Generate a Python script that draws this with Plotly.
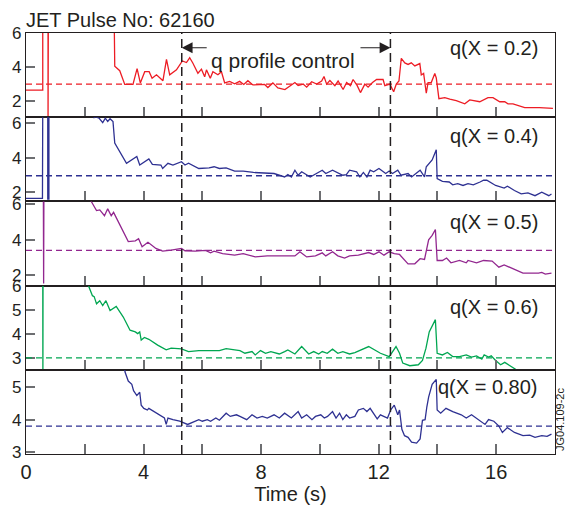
import plotly.graph_objects as go
from plotly.subplots import make_subplots

# ---------------- data (time in s, safety factor q) ----------------
# values above/below the axis range mark off-scale excursions (clipped by the axes)
q_x02 = [(0, 2.65), (0.57, 2.65), (0.57, 7), (0.75, 7), (0.75, 0.5), (0.76, 7), (3.0, 7),
         (3.02, 4.05), (3.19, 3.79), (3.36, 2.98), (3.64, 2.98), (3.78, 3.91), (3.89, 3.07),
         (4.04, 3.73), (4.19, 3.73), (4.29, 3.34), (4.44, 3.55), (4.66, 3.20), (4.78, 4.45),
         (4.89, 3.55), (5.12, 3.84), (5.32, 4.36), (5.46, 4.27), (5.57, 4.55), (5.68, 4.23),
         (5.85, 3.64), (5.97, 3.88), (6.08, 3.43), (6.14, 3.84), (6.27, 3.34), (6.36, 3.73),
         (6.53, 3.55), (6.65, 3.73), (6.76, 3.07), (6.93, 3.16), (7.10, 3.02), (7.27, 3.16),
         (7.41, 2.98), (7.55, 3.20), (7.72, 2.95), (8.12, 2.98), (8.23, 2.80), (8.40, 3.07),
         (8.57, 2.77), (8.81, 2.68), (8.98, 2.91), (9.15, 3.09), (9.26, 2.91), (9.43, 3.0),
         (9.55, 2.82), (9.72, 3.14), (9.89, 3.0), (10.06, 3.18), (10.14, 3.45), (10.23, 3.0),
         (10.34, 3.21), (10.51, 2.91), (10.62, 3.18), (10.79, 2.68), (10.91, 3.09), (11.04, 2.91),
         (11.13, 3.27), (11.27, 2.91), (11.38, 2.5), (11.53, 3.0), (11.64, 2.82), (11.79, 3.09),
         (11.93, 3.27), (12.15, 3.27), (12.21, 2.91), (12.38, 3.0), (12.51, 2.55), (12.60, 3.0),
         (12.69, 3.18), (12.77, 4.52), (12.89, 4.25), (13.0, 4.16), (13.11, 4.25), (13.23, 4.07),
         (13.40, 4.21), (13.45, 3.54), (13.53, 3.63), (13.62, 2.46), (13.68, 3.09), (13.79, 3.09),
         (13.91, 3.63), (13.96, 3.36), (14.05, 2.14), (14.25, 2.20), (14.42, 2.11), (14.64, 2.02),
         (14.93, 1.84), (15.10, 2.07), (15.44, 1.96), (15.72, 2.20), (15.89, 2.20), (16.12, 1.96),
         (16.29, 1.96), (16.40, 1.84), (16.57, 1.84), (16.97, 1.61), (17.47, 1.61), (17.93, 1.57)]

q_x04 = [(0, 1.65), (0.56, 1.65), (0.57, 7), (0.74, 7), (0.74, 1.6), (0.78, 1.6), (0.78, 7),
         (2.25, 7), (2.32, 6.31), (2.37, 6.35), (2.49, 6.27), (2.61, 6.02), (2.70, 6.27),
         (2.78, 6.08), (2.86, 6.24), (2.96, 6.08), (3.02, 4.84), (3.42, 3.67), (3.77, 4.06),
         (3.87, 3.57), (4.18, 3.92), (4.30, 3.61), (4.59, 3.57), (4.65, 3.37), (4.83, 3.67),
         (5.00, 3.57), (5.29, 3.76), (5.41, 3.57), (5.53, 3.67), (5.88, 3.37), (6.23, 3.41),
         (6.40, 3.47), (6.58, 3.37), (6.81, 3.41), (7.10, 3.22), (7.39, 3.22), (7.74, 3.14),
         (8.44, 3.08), (8.80, 2.88), (8.91, 3.02), (9.03, 2.88), (9.15, 3.27), (9.26, 2.98),
         (9.38, 3.18), (9.67, 2.88), (10.08, 3.27), (10.20, 3.08), (10.43, 3.27), (10.78, 2.98),
         (10.90, 3.02), (11.01, 3.27), (11.25, 3.18), (11.36, 2.88), (11.48, 3.14), (11.60, 2.88),
         (11.71, 3.27), (11.83, 3.18), (12.01, 3.37), (12.24, 3.08), (12.36, 3.22), (12.47, 3.08),
         (12.65, 3.27), (12.76, 2.98), (13.00, 3.08), (13.12, 2.88), (13.23, 3.02), (13.41, 3.27),
         (13.56, 2.88), (13.62, 3.47), (13.82, 3.86), (13.96, 4.45), (13.99, 2.78), (14.17, 2.63),
         (14.40, 2.59), (14.52, 2.43), (14.69, 2.49), (14.87, 2.39), (15.04, 2.49), (15.22, 2.43),
         (15.45, 2.59), (15.57, 2.69), (15.68, 2.69), (15.86, 2.49), (15.98, 2.39), (16.27, 2.24),
         (16.38, 2.35), (16.62, 2.10), (16.85, 1.90), (17.08, 1.96), (17.32, 1.80), (17.55, 2.00),
         (17.79, 1.80), (17.88, 1.90)]

q_x05 = [(0.59, 7), (0.60, 1.53), (0.61, 7), (2.1, 7), (2.20, 6.23), (2.32, 5.88), (2.40, 5.65),
         (2.51, 5.69), (2.67, 5.36), (2.78, 5.75), (2.90, 5.36), (2.98, 5.55), (3.48, 3.90),
         (3.72, 3.94), (3.83, 4.06), (3.95, 3.61), (4.15, 3.86), (4.42, 3.51), (4.65, 3.36),
         (4.94, 3.42), (5.29, 3.51), (5.41, 3.38), (5.76, 3.36), (6.11, 3.40), (6.28, 3.26),
         (6.40, 3.36), (6.69, 3.22), (7.10, 3.13), (7.39, 3.22), (7.80, 3.03), (8.21, 3.09),
         (9.15, 3.09), (9.32, 3.32), (9.55, 3.03), (9.85, 3.09), (10.08, 3.26), (10.20, 3.09),
         (10.43, 3.32), (10.61, 3.09), (10.84, 2.97), (11.01, 3.09), (11.31, 3.13), (11.66, 3.28),
         (11.83, 3.17), (12.01, 3.32), (12.18, 3.13), (12.36, 3.32), (12.53, 3.22), (12.71, 3.17),
         (13.00, 2.64), (13.23, 2.64), (13.41, 2.93), (13.56, 2.89), (13.70, 4.0), (13.82, 4.25),
         (13.93, 4.58), (13.99, 2.83), (14.17, 2.83), (14.31, 2.97), (14.46, 2.70), (14.75, 2.83),
         (14.98, 2.70), (15.04, 2.83), (15.33, 2.70), (15.57, 2.83), (15.86, 2.80), (16.09, 2.45),
         (16.27, 2.58), (16.91, 2.12), (17.44, 2.12), (17.55, 2.16), (17.67, 2.06), (17.88, 2.12)]

q_x06 = [(0.57, 7), (0.575, 2.0), (0.58, 7), (2.05, 7), (2.14, 5.96), (2.26, 5.59), (2.32, 5.55),
         (2.40, 5.25), (2.51, 5.38), (2.61, 5.18), (2.72, 5.38), (2.86, 4.97), (3.07, 5.14),
         (3.31, 4.70), (3.54, 4.15), (3.72, 4.08), (3.80, 4.01), (3.87, 4.08), (3.92, 3.74),
         (4.03, 3.85), (4.18, 3.77), (4.48, 3.53), (4.77, 3.33), (4.94, 3.40), (5.29, 3.37),
         (5.53, 3.26), (5.88, 3.30), (6.58, 3.30), (6.81, 3.38), (7.28, 3.30), (7.45, 3.19),
         (7.69, 3.26), (7.80, 3.12), (7.98, 3.30), (8.15, 3.19), (8.33, 3.26), (8.62, 3.16),
         (8.80, 3.26), (8.91, 3.33), (9.15, 3.16), (9.38, 3.47), (9.62, 3.16), (9.79, 3.26),
         (9.96, 3.16), (10.08, 3.26), (10.25, 3.19), (10.43, 3.36), (10.61, 3.19), (10.78, 3.26),
         (11.01, 3.16), (11.19, 3.22), (11.66, 3.47), (11.95, 3.26), (12.06, 3.19), (12.36, 3.05),
         (12.59, 3.47), (12.71, 3.19), (12.82, 2.78), (13.06, 2.67), (13.35, 2.71), (13.49, 2.89),
         (13.61, 3.40), (13.72, 4.08), (13.82, 4.32), (13.93, 4.59), (13.99, 3.19), (14.17, 3.12),
         (14.34, 3.22), (14.52, 3.05), (14.75, 3.05), (14.98, 3.12), (15.16, 3.03), (15.33, 3.08),
         (15.51, 2.95), (15.59, 3.12), (15.74, 3.03), (15.83, 3.08), (15.98, 2.89), (16.15, 2.71),
         (16.29, 2.81), (16.68, 2.53), (16.75, 2.45)]

q_x08 = [(3.3, 6.0), (3.37, 5.48), (3.48, 5.20), (3.60, 5.10), (3.66, 4.90), (3.77, 4.75),
         (3.87, 4.85), (3.92, 4.45), (4.01, 4.35), (4.13, 4.30), (4.18, 4.35), (4.36, 4.25),
         (4.71, 4.05), (4.77, 3.85), (4.83, 4.05), (5.0, 4.0), (5.23, 3.95), (5.50, 3.85),
         (5.76, 3.95), (5.88, 4.0), (6.0, 3.95), (6.17, 4.0), (6.28, 3.95), (6.46, 4.05),
         (6.58, 3.98), (6.81, 4.20), (6.95, 4.10), (7.16, 4.15), (7.28, 4.10), (7.51, 4.0),
         (7.69, 4.15), (7.86, 4.05), (8.04, 4.10), (8.21, 4.05), (8.44, 4.15), (8.62, 4.05),
         (8.80, 4.20), (9.03, 4.05), (9.26, 4.25), (9.38, 4.05), (9.55, 4.15), (9.73, 4.0),
         (9.85, 4.10), (10.03, 4.15), (10.15, 4.05), (10.26, 4.10), (10.43, 4.25), (10.55, 4.05),
         (10.67, 4.20), (10.78, 4.0), (10.90, 4.15), (11.01, 4.05), (11.19, 4.10), (11.31, 4.30),
         (11.48, 4.35), (11.60, 4.25), (11.71, 4.35), (11.83, 4.20), (11.95, 4.02), (12.06, 4.15),
         (12.30, 4.05), (12.41, 4.30), (12.53, 4.45), (12.65, 4.15), (12.71, 4.30), (12.79, 3.70),
         (12.88, 3.50), (13.0, 3.45), (13.12, 3.30), (13.29, 3.27), (13.41, 3.40), (13.49, 3.98),
         (13.58, 4.0), (13.64, 4.40), (13.70, 4.70), (13.82, 5.10), (13.96, 5.25), (13.99, 4.30),
         (14.11, 4.20), (14.29, 4.35), (14.52, 4.25), (14.81, 4.15), (14.98, 4.05), (15.16, 4.15),
         (15.45, 3.95), (15.62, 3.85), (15.74, 4.0), (15.92, 3.95), (16.09, 3.80), (16.21, 3.60),
         (16.38, 3.75), (16.62, 3.60), (16.91, 3.50), (17.14, 3.52), (17.32, 3.45), (17.55, 3.50),
         (17.73, 3.48), (17.88, 3.55)]

series = [q_x02, q_x04, q_x05, q_x06, q_x08]
panel_labels = ["q(X = 0.2)", "q(X = 0.4)", "q(X = 0.5)", "q(X = 0.6)", "q(X = 0.80)"]
target_q = [3.0, 2.95, 3.4, 3.0, 3.8]
control_window = [5.3, 12.4]
y_ranges = [[1.05, 6.01], [1.47, 6.33], [1.41, 6.17], [2.5, 6.01], [2.93, 5.55]]
y_ticks = [[2, 4, 6], [2, 4, 6], [2, 4, 6], [3, 4, 5, 6], [3, 4, 5]]
x_ticks = [0, 2, 4, 6, 8, 10, 12, 14, 16, 18]
x_ticktext = ["0", "", "4", "", "8", "", "12", "", "16", ""]

# ---------------- styling ----------------
colors = ["#ed1c24", "#2e3192", "#92278f", "#00a651", "#2e3192"]
label_shift = [-15, -19, -21, -21, -17]
INK = "#231f20"
TICK = "#6d6e71"
FONT = "Liberation Sans, Arial, Helvetica, sans-serif"

fig = make_subplots(rows=5, cols=1, shared_xaxes=True, vertical_spacing=0)

for i, pts in enumerate(series):
    t = [p[0] for p in pts]
    q = [p[1] for p in pts]
    fig.add_trace(go.Scatter(x=t, y=q, mode="lines",
                             line=dict(color=colors[i], width=1.3),
                             showlegend=False, hoverinfo="skip"),
                  row=i + 1, col=1)
    fig.add_hline(y=target_q[i], line=dict(color=colors[i], width=1.3, dash="6px,4px"),
                  row=i + 1, col=1)
    n = "" if i == 0 else str(i + 1)
    fig.add_annotation(text=panel_labels[i], xref=f"x{n} domain", yref=f"y{n} domain",
                       x=1, y=1, xanchor="right", yanchor="middle", xshift=-15,
                       yshift=label_shift[i], showarrow=False,
                       font=dict(size=20, color=INK, family=FONT))
    fig.update_yaxes(range=y_ranges[i], tickvals=y_ticks[i], row=i + 1, col=1)

for xv in control_window:
    fig.add_shape(type="line", xref="x", yref="paper", x0=xv, x1=xv, y0=0, y1=1,
                  line=dict(color=INK, width=1.5, dash="9px,5px"), layer="above")

fig.update_xaxes(range=[0, 18], tickvals=x_ticks, ticktext=x_ticktext, automargin=False,
                 ticks="inside", ticklen=10, tickwidth=1.5, tickcolor=TICK,
                 showline=True, mirror=True, linecolor=INK, linewidth=1.2,
                 showgrid=False, zeroline=False,
                 tickfont=dict(size=20, color=INK, family=FONT))
fig.update_xaxes(showticklabels=False)
fig.update_xaxes(showticklabels=True, row=5, col=1,
                 title=dict(text="Time (s)", standoff=0, font=dict(size=20, color=INK, family=FONT)))
fig.update_yaxes(ticks="inside", ticklen=9, tickwidth=1.5, tickcolor=TICK, automargin=False,
                 showline=True, mirror=True, linecolor=INK, linewidth=1.2,
                 showgrid=False, zeroline=False,
                 tickfont=dict(size=17, color=INK, family=FONT))

# "q profile control" with arrows to the control window bounds
fig.add_annotation(text="q profile control", xref="x", yref="y domain",
                   x=sum(control_window) / 2 - 0.1, y=0.833, showarrow=False,
                   font=dict(size=21, color=INK, family=FONT))
fig.add_annotation(text="", xref="x", yref="y domain", x=control_window[0], y=0.825,
                   axref="x", ax=6.2, ayref="pixel", ay=0, showarrow=True,
                   arrowhead=2, arrowsize=1.8, arrowwidth=1.2, arrowcolor=INK)
fig.add_annotation(text="", xref="x", yref="y domain", x=control_window[1], y=0.825,
                   axref="x", ax=11.33, ayref="pixel", ay=0, showarrow=True,
                   arrowhead=2, arrowsize=1.8, arrowwidth=1.2, arrowcolor=INK)

fig.add_annotation(text="JET Pulse No: 62160", xref="paper", yref="paper", x=0, y=1,
                   xanchor="left", yanchor="middle", xshift=-2, yshift=13, showarrow=False,
                   font=dict(size=20, color=INK, family=FONT))
fig.add_annotation(text="JG04.109-2c", xref="paper", yref="paper", x=1, y=0,
                   xanchor="center", yanchor="middle", xshift=5, yshift=34, textangle=-90,
                   showarrow=False, font=dict(size=11, color=INK, family=FONT))

fig.update_layout(width=569, height=507, margin=dict(l=26, r=14, t=33, b=53),
                  paper_bgcolor="white", plot_bgcolor="white",
                  font=dict(family=FONT, color=INK))

fig.write_html("out.html", config={"displayModeBar": False},
               post_script="document.body.style.margin='0';")
